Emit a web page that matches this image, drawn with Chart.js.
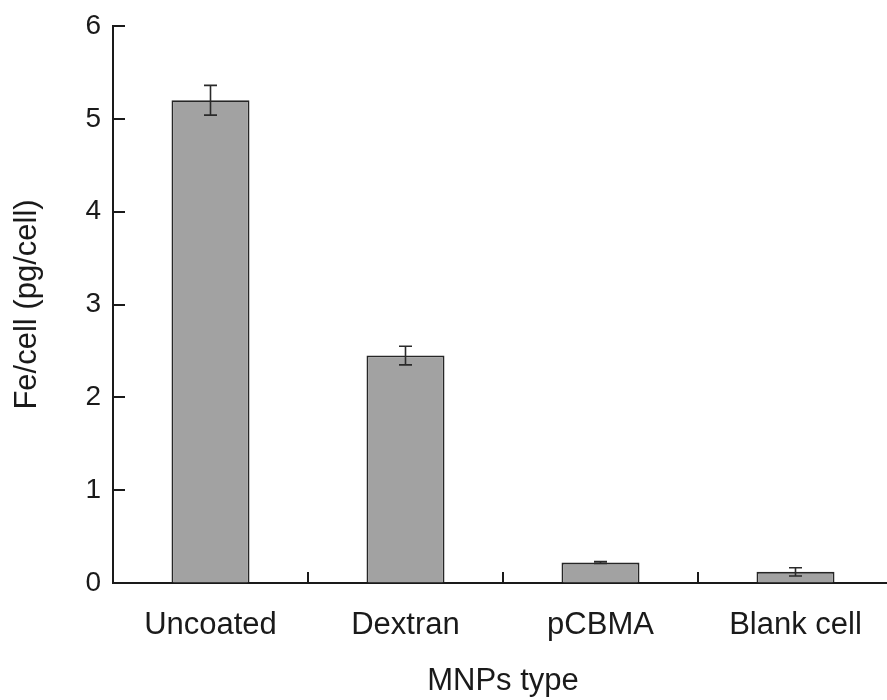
<!DOCTYPE html>
<html>
<head>
<meta charset="utf-8">
<script src="https://cdn.jsdelivr.net/npm/chart.js@4"></script>
<style>
  html, body { margin: 0; padding: 0; background: #fff; overflow: hidden; }
  #wrap { position: absolute; left: 0; top: 0; width: 900px; height: 700px; }
</style>
</head>
<body>
<div id="wrap"><canvas id="ironChart" width="900" height="700"></canvas></div>
<script>
let labels = ['Uncoated', 'Dextran', 'pCBMA', 'Blank cell'];
let ironValues = [5.2, 2.45, 0.22, 0.12];
let ironErrors = [0.16, 0.1, 0.01, 0.045];
let yTicks = [0, 1, 2, 3, 4, 5, 6];

let ink = '#1a1a1a';
let fontName = '"Liberation Sans", Arial, sans-serif';

// error bars on top of each bar
let errorBars = {
  id: 'errorBars',
  afterDatasetsDraw(chart) {
    let ctx = chart.ctx;
    let y = chart.scales.y;
    let bars = chart.getDatasetMeta(0).data;
    ctx.save();
    ctx.strokeStyle = '#2a2a2a';
    ctx.lineWidth = 1.6;
    bars.forEach((bar, i) => {
      let top = y.getPixelForValue(ironValues[i] + ironErrors[i]);
      let bot = y.getPixelForValue(ironValues[i] - ironErrors[i]);
      ctx.beginPath();
      ctx.moveTo(bar.x, top);
      ctx.lineTo(bar.x, bot);
      ctx.moveTo(bar.x - 6.5, top);
      ctx.lineTo(bar.x + 6.5, top);
      ctx.moveTo(bar.x - 6.5, bot);
      ctx.lineTo(bar.x + 6.5, bot);
      ctx.stroke();
    });
    ctx.restore();
  }
};

// tick marks pointing inward
let innerTicks = {
  id: 'innerTicks',
  afterDraw(chart) {
    let ctx = chart.ctx;
    let x = chart.scales.x;
    let y = chart.scales.y;
    let area = chart.chartArea;
    ctx.save();
    ctx.strokeStyle = ink;
    ctx.lineWidth = 2;
    ctx.beginPath();
    yTicks.forEach(v => {
      let py = Math.round(y.getPixelForValue(v));
      if (v === 0) return;
      ctx.moveTo(area.left, py);
      ctx.lineTo(area.left + 12, py);
    });
    for (let i = 1; i < labels.length; i++) {
      let px = Math.round((x.getPixelForTick(i - 1) + x.getPixelForTick(i)) / 2);
      ctx.moveTo(px, area.bottom);
      ctx.lineTo(px, area.bottom - 11);
    }
    ctx.stroke();
    ctx.restore();
  }
};

let ironChart = new Chart(document.getElementById('ironChart'), {
  type: 'bar',
  data: {
    labels: labels,
    datasets: [
      {
        label: 'Fe/cell',
        data: ironValues,
        backgroundColor: '#a2a2a2',
        borderColor: '#262626',
        borderWidth: 1.8,
        barPercentage: 0.4,
        categoryPercentage: 1,
      },
    ],
  },
  options: {
    responsive: false,
    animation: false,
    layout: { padding: { top: 26, right: 7, left: 0, bottom: 0 } },
    plugins: {
      legend: { display: false },
      tooltip: { enabled: false },
    },
    scales: {
      x: {
        grid: { display: true, drawOnChartArea: false, drawTicks: false },
        border: { display: true, color: ink, width: 2 },
        ticks: {
          color: ink,
          padding: 24,
          font: { family: fontName, size: 31 },
        },
        title: {
          display: true,
          text: 'MNPs type',
          color: ink,
          padding: { top: 0, bottom: 0 },
          font: { family: fontName, size: 31 },
        },
        afterFit(scale) { scale.height = 117; },
      },
      y: {
        min: 0,
        max: 6,
        grid: { display: true, drawOnChartArea: false, drawTicks: false },
        border: { display: true, color: ink, width: 2 },
        ticks: {
          stepSize: 1,
          color: ink,
          padding: 12,
          font: { family: fontName, size: 28, lineHeight: 1 },
        },
        afterBuildTicks(scale) { scale.ticks = yTicks.map(v => ({ value: v })); },
        title: {
          display: true,
          text: 'Fe/cell (pg/cell)',
          color: ink,
          padding: { top: 9, bottom: 0 },
          font: { family: fontName, size: 31 },
        },
        afterFit(scale) { scale.width = 113; },
      },
    },
  },
  plugins: [errorBars, innerTicks],
});
</script>
</body>
</html>
